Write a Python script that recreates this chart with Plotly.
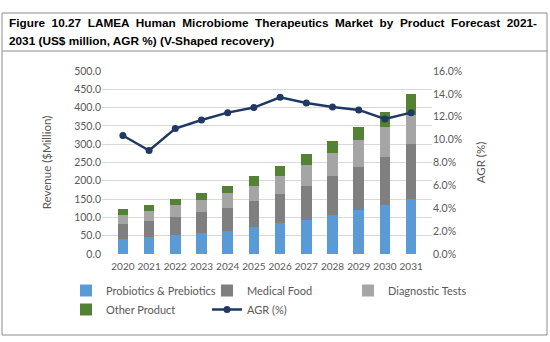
import plotly.graph_objects as go

# Forecast years and revenue by product segment (US$ million)
years = ["2020", "2021", "2022", "2023", "2024", "2025", "2026",
         "2027", "2028", "2029", "2030", "2031"]
probiotics = [41.8, 46.4, 51.0, 58.0, 63.6, 73.6, 83.6, 93.6, 105.5, 120.0, 134.5, 151.0]
medical_food = [40.9, 44.5, 49.0, 55.6, 63.4, 70.9, 80.9, 92.4, 106.3, 117.0, 131.5, 149.0]
diagnostic = [24.3, 27.1, 32.7, 34.4, 39.0, 42.5, 49.1, 57.6, 63.6, 74.0, 82.0, 80.0]
other = [16.6, 16.5, 17.3, 19.0, 21.0, 25.7, 27.4, 30.0, 34.6, 37.0, 41.0, 58.0]
# Annual growth rate of the total market (%)
agr = [10.36, 9.05, 10.97, 11.72, 12.36, 12.8, 13.7, 13.2, 12.86, 12.6, 11.8, 12.36]

W, H = 550, 342
ML, MR, MT, MB = 102, 118, 71, 88
PW, PH = W - ML - MR, H - MT - MB


def px(x):
    return (x - ML) / PW


def py(y):
    return (H - MB - y) / PH


FONT = "Lato"
GREY = "#595959"

fig = go.Figure()
fig.add_bar(x=years, y=probiotics, name="Probiotics & Prebiotics", marker_color="#5b9bd5")
fig.add_bar(x=years, y=medical_food, name="Medical Food", marker_color="#7f7f7f")
fig.add_bar(x=years, y=diagnostic, name="Diagnostic Tests", marker_color="#a5a5a5")
fig.add_bar(x=years, y=other, name="Other Product", marker_color="#548235")
fig.add_scatter(x=years, y=agr, name="AGR (%)", yaxis="y2", mode="lines+markers",
                line=dict(color="#1f3864", width=2.5),
                marker=dict(color="#1f3864", size=7))

fig.update_traces(selector=dict(type="bar"), marker_line_width=0)

fig.update_layout(
    width=W, height=H,
    margin=dict(l=ML, r=MR, t=MT, b=MB),
    paper_bgcolor="white", plot_bgcolor="white",
    barmode="stack", bargap=0.6,
    font=dict(family=FONT, size=10.5, color=GREY),
    showlegend=True,
    legend=dict(orientation="h", x=px(66), xanchor="left", y=py(276), yanchor="top",
                entrywidth=96, entrywidthmode="pixels",
                font=dict(family=FONT, size=11, color=GREY),
                traceorder="normal", itemwidth=30, tracegroupgap=0),
    xaxis=dict(showgrid=False, showline=False, ticks="", tickangle=0,
               ticklabelstandoff=5, tickfont=dict(size=10, color=GREY)),
    yaxis=dict(range=[0, 500], dtick=50, tickformat=".1f", showgrid=True,
               gridcolor="#d9d9d9", gridwidth=1, zeroline=False, showline=False, ticks="",
               title=dict(text="Revenue ($Million)", font=dict(size=11.5, color=GREY), standoff=20),
               tickfont=dict(size=10.5, color=GREY)),
    yaxis2=dict(range=[0, 16], dtick=2, tickformat=".1f", ticksuffix="%", overlaying="y",
                side="right", showgrid=False, zeroline=False, showline=False, ticks="",
                title=dict(text="AGR (%)", font=dict(size=11.5, color=GREY), standoff=15),
                tickfont=dict(size=10.5, color=GREY)),
)

# Frame around figure and the title band
fig.add_shape(type="rect", xref="paper", yref="paper",
              x0=px(2), x1=px(547), y0=py(335), y1=py(13),
              line=dict(color="#8c8c8c", width=1))
fig.add_shape(type="line", xref="paper", yref="paper",
              x0=px(2), x1=px(547), y0=py(51), y1=py(51),
              line=dict(color="#8c8c8c", width=1))

# First title line is justified to the frame width: widen its word gaps
line1 = "Figure 10.27 LAMEA Human Microbiome Therapeutics Market by Product Forecast 2021-"
line2 = "2031 (US$ million, AGR %) (V-Shaped recovery)"
title_lines = [(line1.replace(" ", " \u00a0"), 22.5), (line2, 41.5)]
for txt, yy in title_lines:
    fig.add_annotation(text=txt, xref="paper", yref="paper", x=px(7), y=py(yy),
                       xanchor="left", yanchor="middle", showarrow=False,
                       font=dict(family="Liberation Sans", size=11.8, color="black",
                                 weight="bold"))

fig.write_html("out.html")
